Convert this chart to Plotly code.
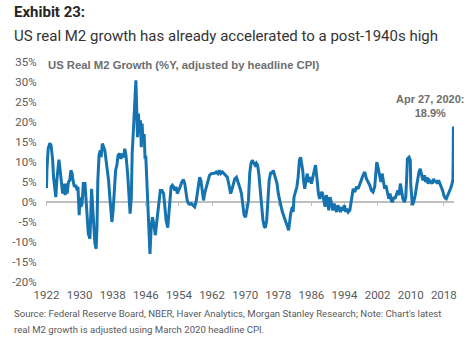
import plotly.graph_objects as go

# US real M2 growth, %Y (adjusted by headline CPI)
years = [
    1922.0, 1922.1, 1922.4, 1922.8, 1923.1, 1923.5, 1923.7, 1924.0, 1924.25, 1924.5,
    1924.8, 1925.0, 1925.3, 1925.6, 1925.9, 1926.2, 1926.5, 1926.8, 1927.0, 1927.3,
    1927.6, 1927.9, 1928.2, 1928.4, 1928.75, 1929.1, 1929.4, 1929.6, 1929.9, 1930.1,
    1930.3, 1930.6, 1930.9, 1931.3, 1931.6, 1931.8, 1932.1, 1932.5, 1932.7, 1932.9,
    1933.2, 1933.5, 1933.7, 1934.0, 1934.2, 1934.4, 1934.7, 1935.0, 1935.2, 1935.5,
    1935.8, 1936.1, 1936.3, 1936.6, 1937.0, 1937.3, 1937.6, 1937.8, 1938.1, 1938.4,
    1938.7, 1939.0, 1939.3, 1939.7, 1940.0, 1940.3, 1940.6, 1940.9, 1941.2, 1941.6,
    1941.9, 1942.2, 1942.5, 1942.7, 1943.0, 1943.2, 1943.4, 1943.6, 1943.8, 1944.0,
    1944.2, 1944.5, 1944.7, 1944.9, 1945.1, 1945.3, 1945.6, 1945.8, 1946.0, 1946.2,
    1946.5, 1946.8, 1947.0, 1947.3, 1947.6, 1947.9, 1948.3, 1948.6, 1948.9, 1949.2,
    1949.5, 1949.9, 1950.3, 1950.6, 1950.9, 1951.3, 1951.5, 1951.7, 1952.1, 1952.4,
    1952.7, 1953.0, 1953.3, 1953.6, 1954.0, 1954.3, 1954.7, 1955.1, 1955.4, 1955.7,
    1956.0, 1956.3, 1956.6, 1957.0, 1957.4, 1957.8, 1958.2, 1958.6, 1959.0, 1959.3,
    1959.6, 1959.95, 1960.2, 1960.4, 1960.7, 1961.1, 1961.4, 1961.8, 1962.2, 1962.6,
    1963.0, 1963.4, 1963.75, 1964.1, 1964.5, 1964.9, 1965.3, 1965.7, 1966.1, 1966.5,
    1966.75, 1967.1, 1967.5, 1967.9, 1968.2, 1968.5, 1968.8, 1969.1, 1969.4, 1969.75,
    1970.1, 1970.4, 1970.8, 1971.1, 1971.4, 1971.7, 1972.0, 1972.4, 1972.7, 1973.0,
    1973.3, 1973.6, 1973.9, 1974.3, 1974.6, 1974.9, 1975.2, 1975.5, 1975.8, 1976.2,
    1976.5, 1976.8, 1977.1, 1977.4, 1977.7, 1978.0, 1978.4, 1978.7, 1979.0, 1979.3,
    1979.6, 1979.9, 1980.3, 1980.5, 1980.7, 1981.0, 1981.4, 1981.6, 1981.8, 1982.2,
    1982.5, 1982.8, 1983.1, 1983.4, 1983.7, 1983.9, 1984.1, 1984.4, 1984.7, 1985.0,
    1985.3, 1985.6, 1986.0, 1986.3, 1986.6, 1987.0, 1987.4, 1987.7, 1988.0, 1988.3,
    1988.6, 1989.0, 1989.3, 1989.6, 1989.9, 1990.2, 1990.5, 1990.8, 1991.2, 1991.5,
    1991.8, 1992.1, 1992.4, 1992.7, 1993.05, 1993.4, 1993.7, 1994.0, 1994.3, 1994.6,
    1994.9, 1995.3, 1995.7, 1996.1, 1996.5, 1996.9, 1997.3, 1997.7, 1998.1, 1998.5,
    1998.9, 1999.3, 1999.7, 2000.1, 2000.5, 2000.9, 2001.3, 2001.5, 2001.8, 2002.1,
    2002.45, 2002.8, 2003.1, 2003.4, 2003.7, 2004.0, 2004.3, 2004.7, 2005.0, 2005.3,
    2005.6, 2005.9, 2006.2, 2006.6, 2006.9, 2007.2, 2007.5, 2007.8, 2008.1, 2008.5,
    2008.8, 2009.0, 2009.2, 2009.6, 2009.9, 2010.0, 2010.2, 2010.4, 2010.7, 2011.1,
    2011.4, 2011.7, 2012.0, 2012.3, 2012.6, 2012.95, 2013.3, 2013.6, 2013.9, 2014.2,
    2014.5, 2014.85, 2015.2, 2015.5, 2015.8, 2016.1, 2016.4, 2016.75, 2017.1, 2017.4,
    2017.7, 2018.0, 2018.3, 2018.6, 2019.0, 2019.3, 2019.6, 2019.9, 2020.05, 2020.2,
    2020.26, 2020.32,
]
growth = [
    3.5, 8.0, 13.3, 14.7, 14.2, 10.4, 6.2, 2.5, 1.2, 5.4,
    9.6, 10.6, 7.9, 5.4, 2.1, 4.6, 1.7, 4.6, 2.1, 5.0,
    5.4, 7.9, 7.1, 5.4, 3.8, 4.2, 2.9, 3.8, -3.3, 1.2,
    -1.2, -0.4, 4.6, 4.6, -0.4, -5.4, -7.9, -9.2, -4.6, 3.3,
    -2.1, -7.1, -10.4, -11.7, -6.2, 5.4, 11.7, 12.9, 11.2, 14.6,
    13.7, 12.9, 11.2, 8.7, 5.4, 1.2, -2.1, -5.0, -2.1, 3.8,
    7.9, 9.2, 11.7, 12.1, 10.8, 12.1, 11.2, 13.3, 11.7, 7.1,
    1.2, -2.9, 1.2, 12.1, 17.9, 22.1, 22.9, 30.4, 22.9, 16.2,
    22.1, 17.1, 20.4, 13.7, 19.6, 15.4, 17.0, 11.2, 11.2, 7.1,
    -1.2, -7.9, -13.0, -6.2, -3.8, -5.4, -8.3, -5.4, -2.1, 1.2,
    2.9, 2.9, 2.1, -1.2, -4.6, -6.4, -3.8, 0.4, 3.8, 4.2,
    3.8, 2.9, 3.8, 2.1, 2.9, 3.8, 5.0, 5.6, 4.6, 2.1,
    0.4, -0.4, -0.6, -0.4, -0.8, -1.2, 0.4, 3.8, 6.2, 5.4,
    2.9, 0.4, 2.1, 2.9, 4.6, 6.2, 6.7, 7.1, 7.1, 7.2,
    7.5, 7.1, 7.9, 7.1, 7.5, 7.1, 6.7, 6.2, 4.2, 2.1,
    2.9, 4.2, 5.8, 6.2, 5.4, 4.2, 3.3, 2.1, -1.2, -3.3,
    -3.8, -2.1, 0.4, 7.1, 9.6, 10.4, 10.0, 9.2, 9.7, 9.2,
    7.1, 3.8, -1.2, -4.6, -6.1, -6.4, -4.6, 1.2, 5.4, 7.5,
    7.1, 7.9, 6.7, 6.2, 4.6, 2.1, -0.4, -1.2, -2.5, -3.3,
    -4.2, -5.0, -6.4, -7.1, -5.4, -2.9, -1.2, -2.5, 1.2, 2.9,
    3.8, 6.2, 10.4, 11.2, 9.6, 7.9, 5.4, 3.3, 5.4, 7.1,
    5.0, 6.2, 4.6, 5.8, 7.5, 9.2, 5.4, 2.1, 0.8, 2.1,
    2.5, 0.8, -1.2, 1.7, 0.4, -2.1, 1.2, 0.0, -2.1, -0.4,
    -1.2, -2.5, -0.8, -1.7, -2.5, -1.2, -2.1, -0.8, -2.5, -1.7,
    -2.5, -2.0, 1.2, 3.3, 2.5, 3.8, 3.3, 4.6, 5.4, 6.7,
    7.5, 5.8, 5.0, 4.2, 2.9, 2.5, 3.8, 6.2, 10.0, 8.7,
    6.7, 5.0, 7.1, 5.0, 3.3, 4.2, 2.5, 0.8, 2.1, 0.4,
    0.0, 1.2, 0.8, 2.1, 2.9, 1.7, 4.6, 2.9, 0.8, 0.0,
    1.2, 5.4, 10.8, 11.2, 10.4, 4.6, 0.4, -0.8, 0.0, 1.7,
    3.8, 6.2, 7.5, 8.3, 6.7, 5.4, 6.7, 5.0, 6.2, 4.6,
    5.4, 5.0, 4.6, 5.8, 5.0, 5.4, 4.6, 5.4, 4.6, 3.8,
    2.9, 1.7, 1.0, 0.8, 1.7, 2.5, 3.3, 4.2, 5.0, 5.6,
    10.5, 18.9,
]

tick_years = list(range(1922, 2019, 8))
tick_labels = [str(y) for y in tick_years]
y_ticks = list(range(-20, 36, 5))
y_labels = [f"{v}%" for v in y_ticks]

Y_MIN, Y_MAX = -20, 35
X_RANGE = [1921.88, 2020.46]

LINE_BLUE = "#1573AF"
AXIS_GREY = "#BFBFBF"
TEXT_GREY = "#595959"
FONT = "Roboto"

fig = go.Figure()
fig.add_trace(go.Scatter(
    x=years, y=growth, mode="lines",
    line=dict(color=LINE_BLUE, width=3),
    hoverinfo="skip", showlegend=False,
))
# empty trace so the zero-line axis (x2) is rendered
fig.add_trace(go.Scatter(x=[], y=[], xaxis="x2", showlegend=False, hoverinfo="skip"))

fig.update_layout(
    width=469, height=337,
    margin=dict(l=40, r=13, t=62, b=55),
    paper_bgcolor="white", plot_bgcolor="white",
    font=dict(family=FONT, color=TEXT_GREY),
    xaxis=dict(
        range=X_RANGE, tickvals=tick_years, ticktext=tick_labels,
        showline=False, showgrid=False, zeroline=False,
        ticks="outside", ticklen=2, tickcolor="rgba(0,0,0,0)",
        tickfont=dict(family=FONT, size=11.5, color=TEXT_GREY),
    ),
    xaxis2=dict(
        overlaying="x", matches="x", anchor="free",
        position=(0 - Y_MIN) / (Y_MAX - Y_MIN),
        range=X_RANGE, tickvals=tick_years,
        showticklabels=False, showgrid=False, zeroline=False,
        showline=True, linecolor=AXIS_GREY, linewidth=2,
        ticks="outside", ticklen=3, tickwidth=1, tickcolor=AXIS_GREY,
        layer="below traces",
    ),
    yaxis=dict(
        range=[Y_MIN, Y_MAX], tickvals=y_ticks, ticktext=y_labels,
        showline=False, showgrid=False, zeroline=False,
        ticks="outside", ticklen=6, tickcolor="rgba(0,0,0,0)",
        tickfont=dict(family=FONT, size=11.5, color=TEXT_GREY),
    ),
)

last_label = f"Apr 27, 2020:<br>{growth[-1]:.1f}%"

annotations = [
    dict(text="<b>Exhibit 23:</b>", xref="paper", yref="paper",
         x=-0.084, y=1.227, xanchor="left", yanchor="middle", showarrow=False,
         font=dict(family=FONT, size=15, color="#262626")),
    dict(text="US real M2 growth has already accelerated to a post-1940s high",
         xref="paper", yref="paper", x=-0.084, y=1.118,
         xanchor="left", yanchor="middle", showarrow=False,
         font=dict(family=FONT, size=15, color="#333333")),
    dict(text="<b>US Real M2 Growth (%Y, adjusted by headline CPI)</b>",
         xref="paper", yref="paper", x=0.0, y=0.986,
         xanchor="left", yanchor="middle", showarrow=False,
         font=dict(family="Liberation Sans", size=11.3, color="#6E6E6E")),
    dict(text=f"<b>{last_label}</b>", xref="x", yref="y",
         x=years[-1], y=growth[-1], xshift=-23, yshift=5,
         xanchor="center", yanchor="bottom", showarrow=False, align="center",
         font=dict(family="Liberation Sans", size=11, color="#6E6E6E")),
    dict(text="Source: Federal Reserve Board, NBER, Haver Analytics, Morgan Stanley Research; Note: Chart's latest",
         xref="paper", yref="paper", x=-0.084, y=(282 - 313) / 220,
         xanchor="left", yanchor="middle", showarrow=False,
         font=dict(family=FONT, size=9.6, color=TEXT_GREY)),
    dict(text="real M2 growth is adjusted using March 2020 headline CPI.",
         xref="paper", yref="paper", x=-0.084, y=(282 - 329) / 220,
         xanchor="left", yanchor="middle", showarrow=False,
         font=dict(family=FONT, size=9.6, color=TEXT_GREY)),
]
fig.update_layout(annotations=annotations)

fig.write_html("out.html")
